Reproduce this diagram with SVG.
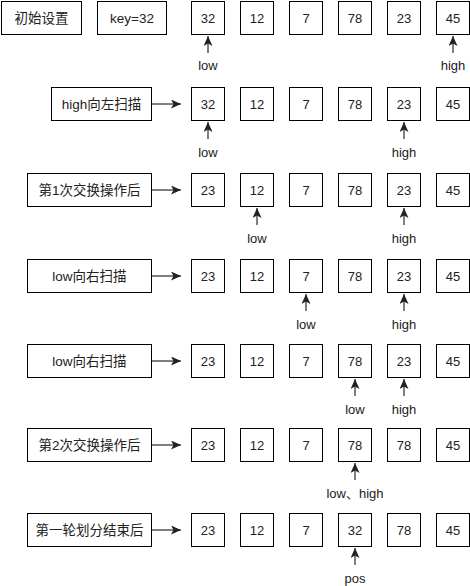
<svg xmlns="http://www.w3.org/2000/svg" width="470" height="586" viewBox="0 0 470 586">
<style>
.b{fill:#fff;stroke:#000;stroke-width:1}
.t{font-family:"Liberation Sans","Noto Sans CJK SC",sans-serif;font-size:13px;fill:#222;text-anchor:middle}
.c{font-family:"Liberation Sans","Noto Sans CJK SC",sans-serif;font-size:13.5px;fill:#222;text-anchor:middle}
.a{stroke:#000;stroke-width:1;fill:none;marker-end:url(#ah)}
</style>
<defs>
<marker id="ah" markerUnits="userSpaceOnUse" markerWidth="12" markerHeight="10" refX="10" refY="4.5" orient="auto">
<path d="M0,0 L10,4.5 L0,9 L2.5,4.5 Z" fill="#222"/>
</marker>
</defs>
<rect width="470" height="586" fill="#fff"/>

<!-- Row 1 -->
<g id="init"><rect class="b" x="1.5" y="1.5" width="80" height="33"/><text class="c" x="41.5" y="23">初始设置</text></g>
<g id="key"><rect class="b" x="97.5" y="1.5" width="69" height="33"/><text class="c" x="132" y="23">key=32</text></g>
<g id="r1">
<rect class="b" x="191.5" y="1.5" width="33" height="33"/><text class="t" x="208" y="22.5">32</text>
<rect class="b" x="240.5" y="1.5" width="33" height="33"/><text class="t" x="257" y="22.5">12</text>
<rect class="b" x="289.5" y="1.5" width="33" height="33"/><text class="t" x="306" y="22.5">7</text>
<rect class="b" x="338.5" y="1.5" width="33" height="33"/><text class="t" x="355" y="22.5">78</text>
<rect class="b" x="387.5" y="1.5" width="33" height="33"/><text class="t" x="404" y="22.5">23</text>
<rect class="b" x="436.5" y="1.5" width="33" height="33"/><text class="t" x="453" y="22.5">45</text>
<text class="t" x="208" y="70">low</text><text class="t" x="453" y="70">high</text>
</g>

<!-- Row 2 -->
<g id="l2"><rect class="b" x="51.5" y="87.5" width="100" height="33"/><text class="c" x="101.5" y="109">high向左扫描</text></g>
<g id="r2">
<rect class="b" x="191.5" y="87.5" width="33" height="33"/><text class="t" x="208" y="108.5">32</text>
<rect class="b" x="240.5" y="87.5" width="33" height="33"/><text class="t" x="257" y="108.5">12</text>
<rect class="b" x="289.5" y="87.5" width="33" height="33"/><text class="t" x="306" y="108.5">7</text>
<rect class="b" x="338.5" y="87.5" width="33" height="33"/><text class="t" x="355" y="108.5">78</text>
<rect class="b" x="387.5" y="87.5" width="33" height="33"/><text class="t" x="404" y="108.5">23</text>
<rect class="b" x="436.5" y="87.5" width="33" height="33"/><text class="t" x="453" y="108.5">45</text>
<text class="t" x="208" y="157">low</text><text class="t" x="404" y="157">high</text>
</g>

<!-- Row 3 -->
<g id="l3"><rect class="b" x="27.5" y="173.5" width="124" height="33"/><text class="c" x="89.5" y="195">第1次交换操作后</text></g>
<g id="r3">
<rect class="b" x="191.5" y="173.5" width="33" height="33"/><text class="t" x="208" y="194.5">23</text>
<rect class="b" x="240.5" y="173.5" width="33" height="33"/><text class="t" x="257" y="194.5">12</text>
<rect class="b" x="289.5" y="173.5" width="33" height="33"/><text class="t" x="306" y="194.5">7</text>
<rect class="b" x="338.5" y="173.5" width="33" height="33"/><text class="t" x="355" y="194.5">78</text>
<rect class="b" x="387.5" y="173.5" width="33" height="33"/><text class="t" x="404" y="194.5">23</text>
<rect class="b" x="436.5" y="173.5" width="33" height="33"/><text class="t" x="453" y="194.5">45</text>
<text class="t" x="257" y="243">low</text><text class="t" x="404" y="243">high</text>
</g>

<!-- Row 4 -->
<g id="l4"><rect class="b" x="27.5" y="259.5" width="124" height="33"/><text class="c" x="89.5" y="281">low向右扫描</text></g>
<g id="r4">
<rect class="b" x="191.5" y="259.5" width="33" height="33"/><text class="t" x="208" y="280.5">23</text>
<rect class="b" x="240.5" y="259.5" width="33" height="33"/><text class="t" x="257" y="280.5">12</text>
<rect class="b" x="289.5" y="259.5" width="33" height="33"/><text class="t" x="306" y="280.5">7</text>
<rect class="b" x="338.5" y="259.5" width="33" height="33"/><text class="t" x="355" y="280.5">78</text>
<rect class="b" x="387.5" y="259.5" width="33" height="33"/><text class="t" x="404" y="280.5">23</text>
<rect class="b" x="436.5" y="259.5" width="33" height="33"/><text class="t" x="453" y="280.5">45</text>
<text class="t" x="306" y="329">low</text><text class="t" x="404" y="329">high</text>
</g>

<!-- Row 5 -->
<g id="l5"><rect class="b" x="27.5" y="344.5" width="124" height="33"/><text class="c" x="89.5" y="366">low向右扫描</text></g>
<g id="r5">
<rect class="b" x="191.5" y="344.5" width="33" height="33"/><text class="t" x="208" y="365.5">23</text>
<rect class="b" x="240.5" y="344.5" width="33" height="33"/><text class="t" x="257" y="365.5">12</text>
<rect class="b" x="289.5" y="344.5" width="33" height="33"/><text class="t" x="306" y="365.5">7</text>
<rect class="b" x="338.5" y="344.5" width="33" height="33"/><text class="t" x="355" y="365.5">78</text>
<rect class="b" x="387.5" y="344.5" width="33" height="33"/><text class="t" x="404" y="365.5">23</text>
<rect class="b" x="436.5" y="344.5" width="33" height="33"/><text class="t" x="453" y="365.5">45</text>
<text class="t" x="355" y="414">low</text><text class="t" x="404" y="414">high</text>
</g>

<!-- Row 6 -->
<g id="l6"><rect class="b" x="27.5" y="428.5" width="124" height="33"/><text class="c" x="89.5" y="450">第2次交换操作后</text></g>
<g id="r6">
<rect class="b" x="191.5" y="428.5" width="33" height="33"/><text class="t" x="208" y="449.5">23</text>
<rect class="b" x="240.5" y="428.5" width="33" height="33"/><text class="t" x="257" y="449.5">12</text>
<rect class="b" x="289.5" y="428.5" width="33" height="33"/><text class="t" x="306" y="449.5">7</text>
<rect class="b" x="338.5" y="428.5" width="33" height="33"/><text class="t" x="355" y="449.5">78</text>
<rect class="b" x="387.5" y="428.5" width="33" height="33"/><text class="t" x="404" y="449.5">78</text>
<rect class="b" x="436.5" y="428.5" width="33" height="33"/><text class="t" x="453" y="449.5">45</text>
<text class="t" x="355" y="498">low、high</text>
</g>

<!-- Row 7 -->
<g id="l7"><rect class="b" x="27.5" y="513.5" width="124" height="33"/><text class="c" x="89.5" y="535">第一轮划分结束后</text></g>
<g id="r7">
<rect class="b" x="191.5" y="513.5" width="33" height="33"/><text class="t" x="208" y="534.5">23</text>
<rect class="b" x="240.5" y="513.5" width="33" height="33"/><text class="t" x="257" y="534.5">12</text>
<rect class="b" x="289.5" y="513.5" width="33" height="33"/><text class="t" x="306" y="534.5">7</text>
<rect class="b" x="338.5" y="513.5" width="33" height="33"/><text class="t" x="355" y="534.5">32</text>
<rect class="b" x="387.5" y="513.5" width="33" height="33"/><text class="t" x="404" y="534.5">78</text>
<rect class="b" x="436.5" y="513.5" width="33" height="33"/><text class="t" x="453" y="534.5">45</text>
<text class="t" x="355" y="583">pos</text>
</g>

<g id="connectors">
<line class="a" x1="152" y1="104" x2="181" y2="104"/>
<line class="a" x1="152" y1="190" x2="181" y2="190"/>
<line class="a" x1="152" y1="276" x2="181" y2="276"/>
<line class="a" x1="152" y1="361" x2="181" y2="361"/>
<line class="a" x1="152" y1="445" x2="181" y2="445"/>
<line class="a" x1="152" y1="530" x2="181" y2="530"/>

<line class="a" x1="208" y1="53" x2="208" y2="36"/>
<line class="a" x1="453" y1="53" x2="453" y2="36"/>
<line class="a" x1="208" y1="139" x2="208" y2="122"/>
<line class="a" x1="404" y1="139" x2="404" y2="122"/>
<line class="a" x1="257" y1="225" x2="257" y2="208"/>
<line class="a" x1="404" y1="225" x2="404" y2="208"/>
<line class="a" x1="306" y1="311" x2="306" y2="294"/>
<line class="a" x1="404" y1="311" x2="404" y2="294"/>
<line class="a" x1="355" y1="396" x2="355" y2="379"/>
<line class="a" x1="404" y1="396" x2="404" y2="379"/>
<line class="a" x1="355" y1="480" x2="355" y2="463"/>
<line class="a" x1="355" y1="565" x2="355" y2="548"/>
</g>
</svg>
